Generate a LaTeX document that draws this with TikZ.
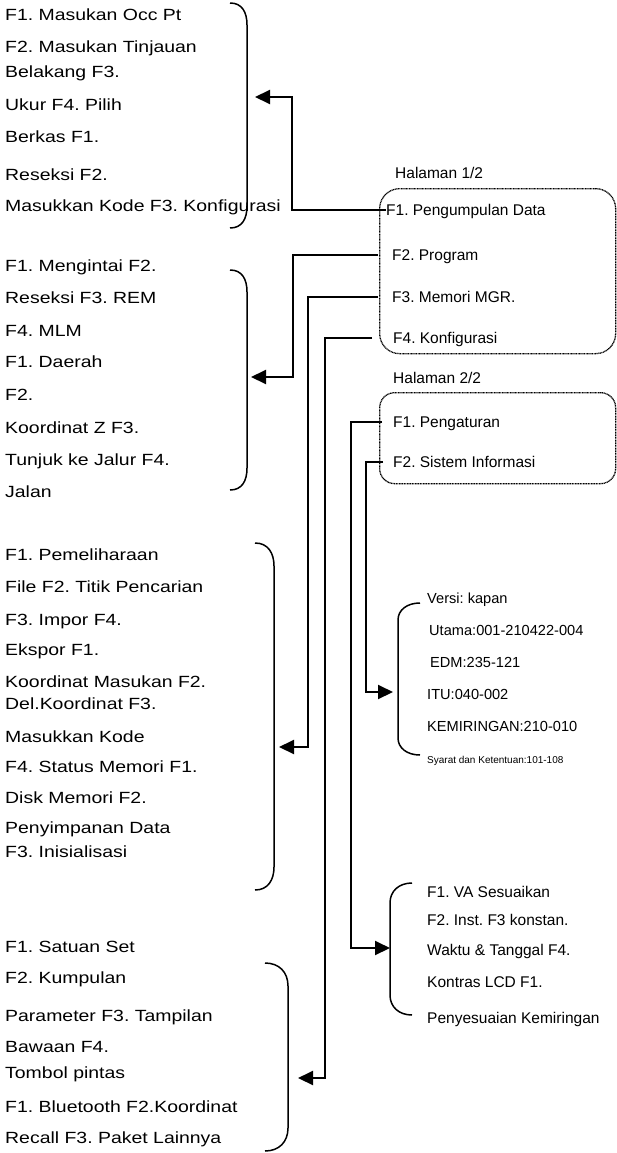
\documentclass[tikz,border=0pt]{standalone}
\usepackage{fontspec}
\setmainfont{Liberation Sans}
\newfontfamily\widefont{Liberation Sans}[FakeStretch=1.2]
\usetikzlibrary{arrows.meta}
\frenchspacing
\begin{document}
\begin{tikzpicture}[x=1pt,y=-1pt,
  lt/.style={anchor=west,inner sep=0pt,font=\widefont\fontsize{16.2}{19}\selectfont,text height=11.6pt,text depth=0pt},
  rt/.style={anchor=west,inner sep=0pt,font=\fontsize{15.5}{18}\selectfont,text height=11pt,text depth=0pt},
  vt/.style={anchor=west,inner sep=0pt,font=\fontsize{14.6}{17}\selectfont,text height=10.5pt,text depth=0pt},
  st/.style={anchor=west,inner sep=0pt,font=\fontsize{10}{12}\selectfont,text height=7.2pt,text depth=0pt},
  pagebox/.style={draw,line width=1.3pt,dash pattern=on 1pt off 0.6pt,anchor=north west,inner sep=0pt},
  brace/.style={line width=1.5pt},
  conn/.style={line width=2pt,-{Triangle[length=15pt,width=14pt]}}]
\useasboundingbox (0,0) rectangle (617,1153);

% ---------- left group 1 ----------
\node[lt] (a1) at (5,15) {F1. Masukan Occ Pt};
\node[lt] (a2) at (5,47) {F2. Masukan Tinjauan};
\node[lt] (a3) at (5,72) {Belakang F3.};
\node[lt] (a4) at (5,105) {Ukur F4. Pilih};
\node[lt] (a5) at (5,137) {Berkas F1.};
\node[lt] (a6) at (5,175) {Reseksi F2.};
\node[lt] (a7) at (5,206) {Masukkan Kode F3. Konfigurasi};
\draw[brace] (230,3) .. controls (242,3) and (247,12) .. (247,25) -- (247,206) .. controls (247,219) and (242,228) .. (230,228);

% ---------- left group 2 ----------
\node[lt] (b1) at (5,266) {F1. Mengintai F2.};
\node[lt] (b2) at (5,298) {Reseksi F3. REM};
\node[lt] (b3) at (5,331) {F4. MLM};
\node[lt] (b4) at (5,362) {F1. Daerah};
\node[lt] (b5) at (5,395) {F2.};
\node[lt] (b6) at (5,428) {Koordinat Z F3.};
\node[lt] (b7) at (5,460) {Tunjuk ke Jalur F4.};
\node[lt] (b8) at (5,492) {Jalan};
\draw[brace] (230,270) .. controls (242,270) and (247,279) .. (247,292) -- (247,468) .. controls (247,481) and (242,490) .. (230,490);

% ---------- left group 3 ----------
\node[lt] (c1) at (5,555) {F1. Pemeliharaan};
\node[lt] (c2) at (5,587) {File F2. Titik Pencarian};
\node[lt] (c3) at (5,620) {F3. Impor F4.};
\node[lt] (c4) at (5,650) {Ekspor F1.};
\node[lt] (c5) at (5,682) {Koordinat Masukan F2.};
\node[lt] (c6) at (5,704) {Del.Koordinat F3.};
\node[lt] (c7) at (5,737) {Masukkan Kode};
\node[lt] (c8) at (5,767) {F4. Status Memori F1.};
\node[lt] (c9) at (5,798) {Disk Memori F2.};
\node[lt] (c10) at (5,828) {Penyimpanan Data};
\node[lt] (c11) at (5,852) {F3. Inisialisasi};
\draw[brace] (255,543) .. controls (268,543) and (274,553) .. (274,566) -- (274,867) .. controls (274,880) and (268,890) .. (255,890);

% ---------- left group 4 ----------
\node[lt] (d1) at (5,947) {F1. Satuan Set};
\node[lt] (d2) at (5,978) {F2. Kumpulan};
\node[lt] (d3) at (5,1016) {Parameter F3. Tampilan};
\node[lt] (d4) at (5,1047) {Bawaan F4.};
\node[lt] (d5) at (5,1073) {Tombol pintas};
\node[lt] (d6) at (5,1107) {F1. Bluetooth F2.Koordinat};
\node[lt] (d7) at (5,1138) {Recall F3. Paket Lainnya};
\draw[brace] (265,963) .. controls (279,963) and (288,972) .. (288,986) -- (288,1128) .. controls (288,1142) and (279,1151) .. (265,1151);

% ---------- page 1/2 ----------
\node[rt] (h1) at (395,173) {Halaman 1/2};
\node[pagebox,rounded corners=20pt,minimum width=236pt,minimum height=165pt] (box1) at (379,188) {};
\node[rt] (p1) at (386,210) {F1. Pengumpulan Data};
\node[rt] (p2) at (392,255) {F2. Program};
\node[rt] (p3) at (392,297) {F3. Memori MGR.};
\node[rt] (p4) at (393,338) {F4. Konfigurasi};

% ---------- page 2/2 ----------
\node[rt] (h2) at (393,378) {Halaman 2/2};
\node[pagebox,rounded corners=15pt,minimum width=236pt,minimum height=91pt] (box2) at (379,392) {};
\node[rt] (q1) at (393,422) {F1. Pengaturan};
\node[rt] (q2) at (393,462) {F2. Sistem Informasi};

% ---------- version group ----------
\node[vt] (v1) at (427,598) {Versi: kapan};
\node[vt] (v2) at (429,630) {Utama:001-210422-004};
\node[vt] (v3) at (430,662) {EDM:235-121};
\node[vt] (v4) at (427,694) {ITU:040-002};
\node[vt] (v5) at (427,726) {KEMIRINGAN:210-010};
\node[st] (v6) at (427,760) {Syarat dan Ketentuan:101-108};
\draw[brace] (420,603) .. controls (407,603) and (398,610) .. (398,620) -- (398,738) .. controls (398,748) and (407,755) .. (420,755);

% ---------- settings group ----------
\node[rt] (s1) at (427,892) {F1. VA Sesuaikan};
\node[rt] (s2) at (427,920) {F2. Inst. F3 konstan.};
\node[rt] (s3) at (427,950) {Waktu \& Tanggal F4.};
\node[rt] (s4) at (427,982) {Kontras LCD F1.};
\node[rt] (s5) at (427,1018) {Penyesuaian Kemiringan};
\draw[brace] (412,883) .. controls (399,883) and (390,891) .. (390,903) -- (390,995) .. controls (390,1007) and (399,1015) .. (412,1015);

% ---------- connectors ----------
\coordinate (k1) at (292,97);  \coordinate (t1) at (255,97);
\coordinate (k2) at (293,377); \coordinate (t2) at (251,377);
\coordinate (k3) at (308,747); \coordinate (t3) at (279,747);
\coordinate (k4) at (325,1078); \coordinate (t4) at (298,1078);
\coordinate (k5) at (351,948); \coordinate (t5) at (390,948);
\coordinate (k6) at (366,692); \coordinate (t6) at (393,692);

\draw[conn] (p1.west) -| (k1) -- (t1);
\draw[conn] ([xshift=-14pt]p2.west) -| (k2) -- (t2);
\draw[conn] ([xshift=-14pt]p3.west) -| (k3) -- (t3);
\draw[conn] ([xshift=-21pt]p4.west) -| (k4) -- (t4);
\draw[conn] ([xshift=-11pt]q1.west) -| (k5) -- (t5);
\draw[conn] ([xshift=-10pt]q2.west) -| (k6) -- (t6);
\end{tikzpicture}
\end{document}
